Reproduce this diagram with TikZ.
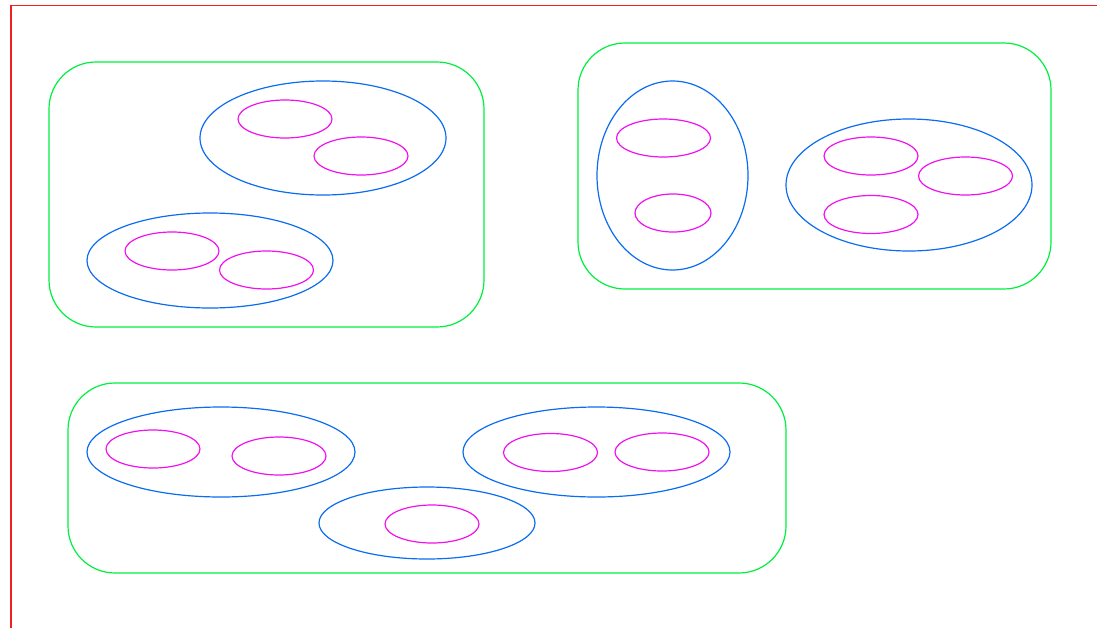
\documentclass[tikz,border=0pt]{standalone}
\usetikzlibrary{shapes.geometric}
\definecolor{cgreen}{HTML}{00F040}
\definecolor{cblue}{HTML}{0A6CF0}
\definecolor{cmag}{HTML}{F010F0}
\definecolor{cred}{HTML}{F02020}
\tikzset{
  grp/.style={draw=cgreen, line width=1.2pt, rounded corners=47pt, inner sep=0pt},
  bell/.style={draw=cblue, line width=1.2pt, ellipse, inner sep=0pt},
  mell/.style={draw=cmag, line width=1.2pt, ellipse, inner sep=0pt, minimum width=94pt, minimum height=38pt},
}
\begin{document}
\begin{tikzpicture}[x=1pt,y=-1pt]
\useasboundingbox (0,0) rectangle (1097,627);
\clip (0,0) rectangle (1097,627);
\draw[cred, line width=1.5pt] (11,5.5) rectangle (1200,700);
% green groups
\node[grp, minimum width=435pt, minimum height=265pt] (g1) at (266.5,194.5) {};
\node[grp, minimum width=473pt, minimum height=246pt] (g2) at (814.5,166) {};
\node[grp, minimum width=718pt, minimum height=190pt] (g3) at (427,478) {};
% blue ellipses
\node[bell, minimum width=246pt, minimum height=114pt] (bA) at (323,138) {};
\node[bell, minimum width=246pt, minimum height=95pt] (bB) at (210,260.5) {};
\node[bell, minimum width=151pt, minimum height=189pt] (bC) at (672.5,175.5) {};
\node[bell, minimum width=246pt, minimum height=132pt] (bD) at (909,185) {};
\node[bell, minimum width=268pt, minimum height=90pt] (bE) at (221,452) {};
\node[bell, minimum width=267pt, minimum height=90pt] (bF) at (596.5,452) {};
\node[bell, minimum width=216pt, minimum height=72pt] (bG) at (427,523) {};
% magenta ellipses
\node[mell] (m1) at (285,119) {};
\node[mell] (m2) at (361,156) {};
\node[mell] (m3) at (172,251) {};
\node[mell] (m4) at (266.5,270) {};
\node[mell] (m5) at (663.5,138) {};
\node[mell, minimum width=76pt] (m6) at (673,213) {};
\node[mell] (m7) at (871,156) {};
\node[mell] (m8) at (965.5,176) {};
\node[mell] (m9) at (871,214.5) {};
\node[mell] (m10) at (153,449) {};
\node[mell] (m11) at (279,456) {};
\node[mell] (m12) at (550.5,452.5) {};
\node[mell] (m13) at (662,452) {};
\node[mell] (m14) at (432,524) {};
\end{tikzpicture}
\end{document}
